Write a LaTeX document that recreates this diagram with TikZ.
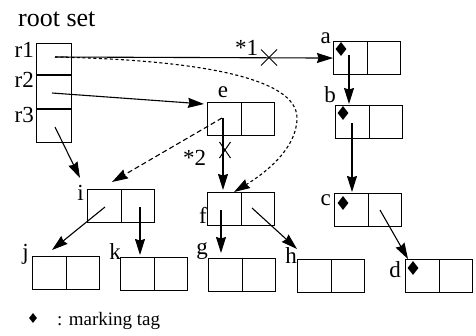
\documentclass[tikz,border=0pt]{standalone}
\usepackage{fontspec}
\setmainfont{Liberation Serif}
\usetikzlibrary{arrows.meta,calc,shapes.geometric,shapes.misc}
\tikzset{
  cellbox/.style={draw, line width=1.1pt, rectangle, anchor=north west, minimum width=67pt, minimum height=33pt, inner sep=0pt},
  divider/.style={line width=1.1pt},
  lbl/.style={inner sep=0pt, font=\fontsize{23}{25}\selectfont},
  arr/.style={line width=1.1pt, -{Stealth[length=16pt,width=10pt,inset=1.5pt]}},
  dotarr/.style={arr, dash pattern=on 3pt off 2.5pt},
  dasharr/.style={arr, dash pattern=on 5pt off 3pt},
  tag/.style={diamond, fill=black, inner sep=0pt, minimum width=11pt, minimum height=14pt},
  xmark/.style={cross out, draw, line width=1pt, inner sep=0pt, minimum width=15pt, minimum height=15pt}
}
\newcommand{\twocell}[3]{%
  \node[cellbox] (#1) at (#2,#3) {};
  \draw[divider] (#1.north) -- (#1.south);}
\begin{document}
\begin{tikzpicture}[x=1pt,y=-1pt]
\useasboundingbox (0,0) rectangle (476,335);
% root set
\node[inner sep=0pt, anchor=base west, font=\fontsize{26}{28}\selectfont] (title) at (18,26) {root set};
\node[cellbox, minimum width=35pt, minimum height=99pt] (rs) at (36,43) {};
\draw[divider] (36,75) -- (71,75);
\draw[divider] (36,109) -- (71,109);
\node[lbl, anchor=base east] (lr1) at (34,57) {r1};
\node[lbl, anchor=base east] (lr2) at (34,87) {r2};
\node[lbl, anchor=base east] (lr3) at (34,122) {r3};
\coordinate (r1) at (55,57);
\coordinate (r2) at (52,93);
\coordinate (r3) at (55,127);
% cells
\twocell{a}{333}{41}
\twocell{b}{335}{105}
\twocell{c}{334}{193}
\twocell{d}{405}{259}
\twocell{e}{207}{102}
\twocell{f}{207}{192}
\twocell{g}{208}{258}
\twocell{h}{297}{259}
\twocell{i}{87}{189}
\twocell{j}{32}{256}
\twocell{k}{120}{257}
% labels
\node[lbl, anchor=base east] (la) at (331,43) {a};
\node[lbl, anchor=base east] (lb) at (336,102) {b};
\node[lbl, anchor=base east] (lc) at (331,205) {c};
\node[lbl, anchor=base east] (ld) at (401,277) {d};
\node[lbl, anchor=base] (le) at (223,97) {e};
\node[lbl, anchor=base east] (lf) at (207,223) {f};
\node[lbl, anchor=base east] (lg) at (208,254) {g};
\node[lbl, anchor=base east] (lh) at (297,263) {h};
\node[lbl, anchor=base east] (li) at (84,200) {i};
\node[lbl, anchor=base east] (lj) at (29,259) {j};
\node[lbl, anchor=base east] (lk) at (121,259) {k};
% marking tags
\node[tag] (ta) at ($(a.north west)+(8,8)$) {};
\node[tag] (tb) at ($(b.north west)+(8,8)$) {};
\node[tag] (tc) at ($(c.north west)+(9,10)$) {};
\node[tag] (td) at ($(d.north west)+(8,9)$) {};
% pointers
\draw[arr] (r1) -- (a.west);
\node[xmark] (x1) at (269,57.5) {};
\node[lbl, anchor=base west] (s1) at (235,55) {*1};
\draw[dotarr] (r1) .. controls (200,60) and (297,78) .. (297,118)
  .. controls (297,150) and (262,175) .. ($(f.north)+(-7,0)$);
\draw[arr] (r2) -- ($(e.north west)+(-3,2)$);
\draw[arr] (r3) -- ($(i.north west)+(-7,-11)$);
\draw[dasharr] ($(e.north west)+(15,16)$) -- ($(i.north west)+(25,-7)$);
\draw[arr] ($(e.north west)+(16,16)$) -- ($(f.north west)+(16,-2)$);
\node[xmark, minimum width=10pt] (x2) at (225,150) {};
\node[lbl, anchor=base west] (s2) at (183,165) {*2};
\draw[arr] ($(a.north west)+(16,14)$) -- ($(b.north west)+(14,-1)$);
\draw[arr] ($(b.north west)+(17,18)$) -- ($(c.north west)+(18,-1)$);
\draw[arr] ($(c.north west)+(46,17)$) -- ($(d.north west)+(3,0)$);
\draw[arr] ($(f.north west)+(14,18)$) -- ($(g.north west)+(13,-5)$);
\draw[arr] ($(f.north west)+(45,16)$) -- ($(h.north west)+(0,-10)$);
\draw[arr] ($(i.north west)+(18,18)$) -- ($(j.north west)+(20,-6)$);
\draw[arr] ($(i.north west)+(53,18)$) -- ($(k.north west)+(20,-2)$);
% legend
\node[tag, minimum width=8pt, minimum height=10pt] (lt) at (33,318) {};
\node[inner sep=0pt, anchor=base west, font=\fontsize{19}{21}\selectfont] (legend) at (57,325) {: marking tag};
\end{tikzpicture}
\end{document}
